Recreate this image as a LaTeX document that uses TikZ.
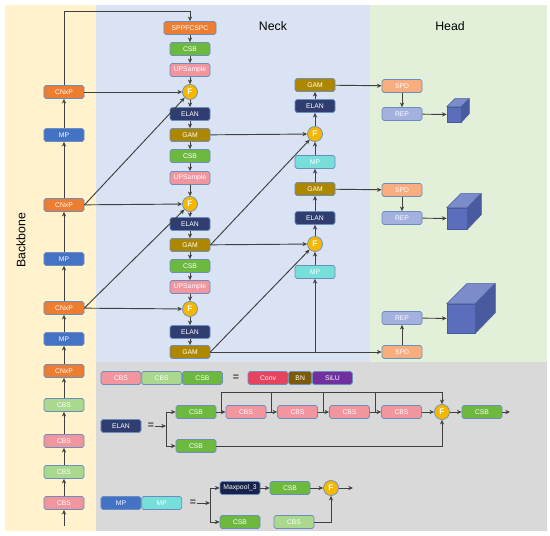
\documentclass[tikz,border=0pt]{standalone}
\usepackage{fontspec}
\setmainfont{Liberation Sans}
\usetikzlibrary{arrows.meta,positioning,calc}

\definecolor{backyel}{HTML}{FFF2CC}
\definecolor{neckblue}{HTML}{DAE3F3}
\definecolor{headgreen}{HTML}{E2F0D9}
\definecolor{legendgray}{HTML}{D9D9D9}
\definecolor{edgeblue}{HTML}{6C8EBF}
\definecolor{linegray}{HTML}{404040}
\definecolor{cnxp}{HTML}{ED7D31}
\definecolor{mpblue}{HTML}{4472C4}
\definecolor{mpcyan}{HTML}{76DFD9}
\definecolor{cbspink}{HTML}{F1959F}
\definecolor{cbslight}{HTML}{A9D88E}
\definecolor{csbgreen}{HTML}{6DB93F}
\definecolor{elannavy}{HTML}{2F3D70}
\definecolor{gamgold}{HTML}{AE8700}
\definecolor{fuseyel}{HTML}{F5B700}
\definecolor{spdorange}{HTML}{F7AD7E}
\definecolor{repblue}{HTML}{A4B0DD}
\definecolor{convred}{HTML}{E8435E}
\definecolor{bnbrown}{HTML}{7B5A0A}
\definecolor{silupurple}{HTML}{7030A0}
\definecolor{poolnavy}{HTML}{17234A}
\definecolor{cubefront}{HTML}{5A6EBB}
\definecolor{cubetop}{HTML}{7C8CCB}
\definecolor{cubeside}{HTML}{4A5A9F}

\tikzset{
  blk/.style={draw=edgeblue, rounded corners=1.5pt, text=white, line width=0.6pt,
    minimum width=1.2cm, minimum height=0.39cm, inner sep=0pt},
  fuse/.style={circle, draw=edgeblue, fill=fuseyel, text=white, line width=0.6pt,
    minimum size=0.45cm, inner sep=0pt, font=\fontsize{7}{8}\selectfont\bfseries},
  arr/.style={draw=linegray, line width=0.8pt, -{Stealth[length=4pt,width=3.6pt]}},
  ln/.style={draw=linegray, line width=0.8pt},
  eqsign/.style={font=\fontsize{9}{10}\selectfont\bfseries, text=linegray, inner sep=1pt},
  title/.style={font=\fontsize{10.5}{12}\selectfont, text=black}
}

\begin{document}
\begin{tikzpicture}[x=0.03cm, y=-0.03cm, font=\fontsize{5.8}{6}\selectfont]
    \useasboundingbox (0,0) rectangle (550,536);

    % Background panels
    \fill[backyel] (5,5) rectangle (96,531);
    \fill[neckblue] (96,5) rectangle (370,362);
    \fill[headgreen] (370,5) rectangle (547,362);
    \fill[legendgray] (96,362) rectangle (547,531);

    \node[title, rotate=90] (tback) at (21,240) {Backbone};
    \node[title] (tneck) at (273,26) {Neck};
    \node[title] (thead) at (450,26) {Head};

    % Backbone, bottom to top
    \foreach \name/\y/\col/\txt in {c1/503/cbspink/CBS, c2/472/cbslight/CBS,
        c3/441/cbspink/CBS, c4/405/cbslight/CBS, b1/371/cnxp/CNxP, m1/339/mpblue/MP,
        b2/308/cnxp/CNxP, m2/259/mpblue/MP, b3/205/cnxp/CNxP, m3/135/mpblue/MP,
        b4/92/cnxp/CNxP} {
        \node[blk, fill=\col] (\name) at (64,\y) {\txt};
    };
    \coordinate (bin) at (64,526);
    \draw[arr] (bin) -- (c1);
    \foreach \a/\b in {c1/c2, c2/c3, c3/c4, c4/b1, b1/m1, m1/b2, b2/m2, m2/b3, b3/m3, m3/b4} {
        \draw[arr] (\a) -- (\b);
    };

    % Neck, first column (top to bottom)
    \node[blk, fill=cnxp, minimum width=1.56cm] (spp) at (190,28) {SPPFCSPC};
    \foreach \name/\y/\col/\txt in {n1/49/csbgreen/CSB, u1/70/cbspink/UPSample,
        e1/114/elannavy/ELAN, g1/135/gamgold/GAM, n2/156/csbgreen/CSB, u2/178/cbspink/UPSample,
        e2/224/elannavy/ELAN, g2/245/gamgold/GAM, n3/266/csbgreen/CSB, u3/287/cbspink/UPSample,
        e3/332/elannavy/ELAN, g3/352/gamgold/GAM} {
        \node[blk, fill=\col] (\name) at (190,\y) {\txt};
    };
    \node[fuse] (f1) at (190,92) {F};
    \node[fuse] (f2) at (190,204) {F};
    \node[fuse] (f3) at (190,309) {F};
    \foreach \a/\b in {spp/n1, n1/u1, u1/f1, f1/e1, e1/g1, g1/n2, n2/u2, u2/f2, f2/e2,
        e2/g2, g2/n3, n3/u3, u3/f3, f3/e3, e3/g3} {
        \draw[arr] (\a) -- (\b);
    };
    \coordinate (topl) at (0,11);
    \draw[arr] (b4) -- (b4 |- topl) -| (spp);

    % Neck, second column (bottom to top)
    \foreach \name/\y/\col/\txt in {p1/272/mpcyan/MP, e4/218/elannavy/ELAN, g4/189/gamgold/GAM,
        p2/162/mpcyan/MP, e5/106/elannavy/ELAN, g5/85/gamgold/GAM} {
        \node[blk, fill=\col] (\name) at (315,\y) {\txt};
    };
    \node[fuse] (f4) at (315,244) {F};
    \node[fuse] (f5) at (315,134) {F};
    \foreach \a/\b in {p1/f4, f4/e4, e4/g4, g4/p2, p2/f5, f5/e5, e5/g5} {
        \draw[arr] (\a) -- (\b);
    };

    % Head
    \foreach \name/\y/\col/\txt in {s1/86/spdorange/SPD, r1/114/repblue/REP,
        s2/190/spdorange/SPD, r2/218/repblue/REP, r3/318/repblue/REP, s3/352/spdorange/SPD} {
        \node[blk, fill=\col] (\name) at (402,\y) {\txt};
    };
    \draw[arr] (s1) -- (r1);
    \draw[arr] (s2) -- (r2);
    \draw[arr] (s3) -- (r3);

    % Output cubes
    \foreach \k/\cx/\cy/\w/\h/\d in {k1/454/114.5/14/15/8, k2/457/218.5/20/21/14, k3/461/318.5/28/29/20} {
        \node[draw=cubeside, fill=cubefront, line width=0.5pt, inner sep=0pt,
            minimum width=\w*0.03cm, minimum height=\h*0.03cm] (\k) at (\cx,\cy) {};
        \filldraw[cubetop, draw=cubeside, line width=0.5pt] (\k.north west) -- ++(\d,-\d) -- ++(\w,0) -- (\k.north east) -- cycle;
        \filldraw[cubeside, line width=0.5pt] (\k.north east) -- ++(\d,-\d) -- ++(0,\h) -- (\k.south east) -- cycle;
    };
    \draw[arr] (r1) -- (k1);
    \draw[arr] (r2) -- (k2);
    \draw[arr] (r3) -- (k3);

    % Backbone to neck
    \draw[arr] (b4) -- (f1);
    \draw[arr] (b3.east) -- (f1);
    \draw[arr] (b3) -- (f2);
    \draw[arr] (b2.east) -- (f2);
    \draw[arr] (b2) -- (f3);

    % Neck cross links
    \draw[arr] (g1) -- (f5);
    \draw[arr] (g2.east) -- (f5);
    \draw[arr] (g2) -- (f4);
    \draw[arr] (g3.east) -- (f4);
    \coordinate (j1) at (315,352);
    \draw[arr] (g3) -- (s3);
    \draw[arr] (j1) -- (p1);
    \draw[arr] (g5) -- (s1);
    \draw[arr] (g4) -- (s2);

    % Legend: CBS / CSB
    \node[blk, fill=cbspink] (l1) at (121,378) {CBS};
    \node[blk, fill=cbslight, right=0pt of l1] (l2) {CBS};
    \node[blk, fill=csbgreen, right=0pt of l2] (l3) {CSB};
    \node[eqsign] (eq1) at (236,378) {=};
    \node[blk, fill=convred] (cv) at (268,378) {Conv};
    \node[blk, fill=bnbrown, minimum width=0.69cm, right=0pt of cv] (bn) {BN};
    \node[blk, fill=silupurple, right=0pt of bn] (sl) {SiLU};

    % Legend: ELAN
    \node[blk, fill=elannavy] (el) at (121,426) {ELAN};
    \node[eqsign] (eq2) at (151,426) {=};
    \coordinate (sp1) at (166,426);
    \node[blk, fill=csbgreen] (a1) at (196,412) {CSB};
    \node[blk, fill=csbgreen] (a2) at (196,446) {CSB};
    \foreach \name/\x in {cb1/246, cb2/297.5, cb3/349.5, cb4/401.5} {
        \node[blk, fill=cbspink] (\name) at (\x,412) {CBS};
    };
    \node[fuse] (af) at (442,412) {F};
    \node[blk, fill=csbgreen] (a3) at (482,412) {CSB};
    \coordinate (aout) at (510,412);
    \draw[arr] (eq2.east) -- (sp1);
    \draw[ln] (sp1 |- a1) -- (sp1 |- a2);
    \draw[arr] (sp1 |- a1) -- (a1);
    \draw[arr] (sp1 |- a2) -- (a2);
    \foreach \a/\b in {a1/cb1, cb1/cb2, cb2/cb3, cb3/cb4, cb4/af, af/a3, a3/aout} {
        \draw[arr] (\a) -- (\b);
    };
    \coordinate (tp) at (0,392);
    \foreach \a/\b [count=\i] in {a1/cb1, cb1/cb2, cb2/cb3, cb3/cb4} {
        \coordinate (t\i) at ($(\a.east)!0.5!(\b.west)$);
        \draw[ln] (t\i) -- (t\i |- tp);
    };
    \draw[arr] (t1 |- tp) -| (af);
    \draw[arr] (a2) -| (af);

    % Legend: MP
    \node[blk, fill=mpblue] (mp1) at (121,503) {MP};
    \node[blk, fill=mpcyan, right=0pt of mp1] (mp2) {MP};
    \node[eqsign] (eq3) at (193,503) {=};
    \coordinate (sp2) at (210,503);
    \node[blk, fill=poolnavy] (mx) at (240,488) {Maxpool\_3};
    \node[blk, fill=csbgreen] (d1) at (290,488) {CSB};
    \node[fuse] (df) at (331,488) {F};
    \coordinate (dout) at (353,488);
    \node[blk, fill=csbgreen] (d2) at (240,522) {CSB};
    \node[blk, fill=cbslight] (d3) at (294,522) {CBS};
    \draw[arr] (eq3.east) -- (sp2);
    \draw[ln] (sp2 |- mx) -- (sp2 |- d2);
    \draw[arr] (sp2 |- mx) -- (mx);
    \draw[arr] (sp2 |- d2) -- (d2);
    \draw[arr] (mx) -- (d1);
    \draw[arr] (d1) -- (df);
    \draw[arr] (df) -- (dout);
    \draw[arr] (d3) -| (df);
\end{tikzpicture}
\end{document}
